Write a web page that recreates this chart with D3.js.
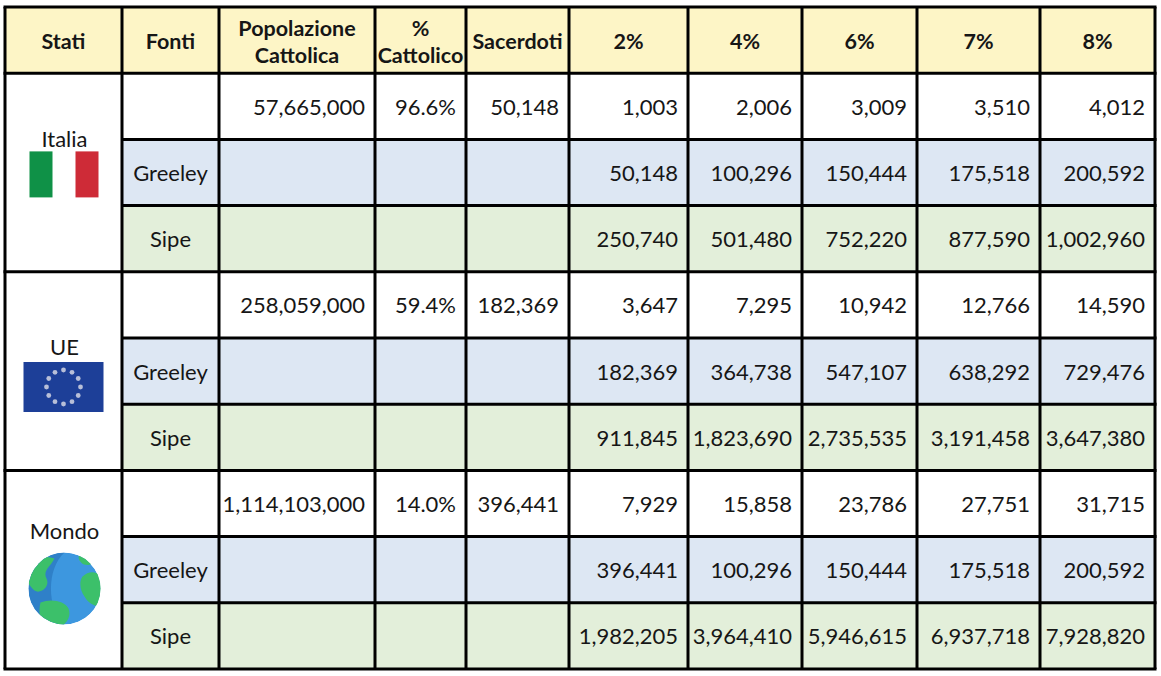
<!DOCTYPE html>
<html>
<head>
<meta charset="utf-8">
<script src="https://cdn.jsdelivr.net/npm/d3@7"></script>
<style>
  body { margin: 0; background: #fff; }
  text { font-family: Lato, "Open Sans", sans-serif; fill: #161616; }
</style>
</head>
<body>
<div id="table"></div>
<script>
// data
const headers = ["Stati", "Fonti", "Popolazione\nCattolica", "%\nCattolico", "Sacerdoti", "2%", "4%", "6%", "7%", "8%"];
const stati = ["Italia", "UE", "Mondo"];
const fonti = ["", "Greeley", "Sipe"];
const popolazione = [57665000, 258059000, 1114103000];
const percCattolico = [96.6, 59.4, 14.0];
const sacerdoti = [50148, 182369, 396441];

const italiaBase   = [1003, 2006, 3009, 3510, 4012];
const italiaGreeley = [50148, 100296, 150444, 175518, 200592];
const italiaSipe   = [250740, 501480, 752220, 877590, 1002960];
const ueBase       = [3647, 7295, 10942, 12766, 14590];
const ueGreeley    = [182369, 364738, 547107, 638292, 729476];
const ueSipe       = [911845, 1823690, 2735535, 3191458, 3647380];
const mondoBase    = [7929, 15858, 23786, 27751, 31715];
const mondoGreeley = [396441, 100296, 150444, 175518, 200592];
const mondoSipe    = [1982205, 3964410, 5946615, 6937718, 7928820];

const valori = [
    [italiaBase, italiaGreeley, italiaSipe],
    [ueBase, ueGreeley, ueSipe],
    [mondoBase, mondoGreeley, mondoSipe]
];

// layout
const W = 1161, H = 676;
const colWidths = [117, 97, 156, 91, 103, 119, 114, 115, 123, 115];
const left = 5;
const edges = [left, ...d3.cumsum(colWidths).map(d => d + left)];
const labelOffset = [65, 75, 60];

const x = i => edges[i];
const cw = i => colWidths[i];
const y = d3.scaleBand().domain(d3.range(10)).range([7, 669]);

const rowFill = ["#ffffff", "#dde7f3", "#e3efda"];
const headFill = "#fdf5c6";

const fmt = d3.format(",");
const fmtPct = d => d3.format(".1f")(d) + "%";

const svg = d3.select("#table")
    .append("svg")
    .attr("width", W)
    .attr("height", H);

// header cells
svg.append("rect")
    .attr("x", x(0)).attr("y", y(0))
    .attr("width", edges[10] - edges[0]).attr("height", y.bandwidth())
    .attr("fill", headFill);

headers.forEach((h, i) => {
    const lines = h.split("\n");
    const cx = x(i) + cw(i) / 2;
    const cy = y(0) + y.bandwidth() / 2 + 1;
    const t = svg.append("text")
        .attr("x", cx)
        .attr("text-anchor", "middle")
        .attr("font-weight", "bold")
        .attr("font-size", 21.5);
    lines.forEach((l, k) => {
        t.append("tspan")
            .attr("x", cx)
            .attr("y", cy + (k - (lines.length - 1) / 2) * 27)
            .attr("dominant-baseline", "central")
            .text(l);
    });
});

// body rows
stati.forEach((s, si) => {
    fonti.forEach((f, fi) => {
        const r = 1 + si * 3 + fi;
        const ry = y(r);
        const cy = ry + y.bandwidth() / 2;

        svg.append("rect")
            .attr("x", x(1)).attr("y", ry)
            .attr("width", edges[10] - edges[1]).attr("height", y.bandwidth())
            .attr("fill", rowFill[fi]);

        svg.append("text")
            .attr("x", x(1) + cw(1) / 2)
            .attr("y", cy)
            .attr("dominant-baseline", "central")
            .attr("text-anchor", "middle")
            .attr("font-size", 22)
            .text(f);

        const cells = [];
        if (fi == 0) {
            cells.push([2, fmt(popolazione[si])]);
            cells.push([3, fmtPct(percCattolico[si])]);
            cells.push([4, fmt(sacerdoti[si])]);
        }
        valori[si][fi].forEach((v, vi) => cells.push([5 + vi, fmt(v)]));

        cells.forEach(([c, txt]) => {
            svg.append("text")
                .attr("x", x(c + 1) - 10)
                .attr("y", cy)
                .attr("dominant-baseline", "central")
                .attr("text-anchor", "end")
                .attr("font-size", 22)
                .text(txt);
        });
    });

    // Stati label
    const top = y(1 + si * 3);
    svg.append("text")
        .attr("x", x(0) + cw(0) / 2 + 1)
        .attr("y", top + labelOffset[si])
        .attr("dominant-baseline", "central")
        .attr("text-anchor", "middle")
        .attr("font-size", 22)
        .text(s);
});

// icons
const cx0 = x(0) + cw(0) / 2;

// Italia flag
const itTop = y(2) + 12;
svg.append("rect").attr("x", cx0 - 34).attr("y", itTop).attr("width", 23).attr("height", 46).attr("fill", "#0f9147");
svg.append("rect").attr("x", cx0 + 12).attr("y", itTop).attr("width", 23).attr("height", 46).attr("fill", "#ce2b37");

// EU flag
const euTop = y(5) + 24;
svg.append("rect").attr("x", cx0 - 40).attr("y", euTop).attr("width", 80).attr("height", 50).attr("fill", "#1d3f98");
svg.selectAll(".star")
    .data(d3.range(12))
    .enter()
    .append("circle")
    .attr("cx", d => cx0 + 17 * Math.sin(d * Math.PI / 6))
    .attr("cy", d => euTop + 25 - 17 * Math.cos(d * Math.PI / 6))
    .attr("r", 2.4)
    .attr("fill", "#b8bfd8");

// Mondo globe
const gx = cx0 + 1, gy = y(8) + 52, gr = 36;
const globe = svg.append("g").attr("transform", `translate(${gx},${gy})`);
globe.append("clipPath").attr("id", "gclip").append("circle").attr("r", gr);
const gg = globe.append("g").attr("clip-path", "url(#gclip)");
gg.append("circle").attr("r", gr).attr("fill", "#3d97df");
gg.append("path")
    .attr("d", `M0,${-gr} C-18,-20 -18,20 0,${gr} L-${gr},${gr} L-${gr},-${gr} Z`)
    .attr("fill", "#2f80c8");
gg.append("path")
    .attr("d", "M-40,-20 C-30,-30 -20,-34 -10,-30 C-14,-22 -22,-18 -18,-10 C-14,-2 -24,6 -30,2 C-36,-4 -40,-10 -40,-20 Z")
    .attr("fill", "#3cc06a");
gg.append("path")
    .attr("d", "M-24,14 C-14,10 0,12 4,20 C8,30 -2,40 -10,40 C-20,40 -28,30 -24,14 Z")
    .attr("fill", "#3cc06a");
gg.append("path")
    .attr("d", "M18,-12 C26,-20 36,-16 40,-8 L40,16 C34,20 24,16 20,8 C16,2 14,-6 18,-12 Z")
    .attr("fill", "#3cc06a");
gg.append("path")
    .attr("d", "M14,-32 C22,-36 30,-30 26,-24 C20,-22 14,-26 14,-32 Z")
    .attr("fill", "#3cc06a");

// grid lines
svg.selectAll(".vline")
    .data(edges)
    .enter()
    .append("line")
    .attr("x1", d => d).attr("x2", d => d)
    .attr("y1", y(0)).attr("y2", y(9) + y.bandwidth())
    .attr("stroke", "#000").attr("stroke-width", 3);

// horizontal lines: full width at group edges, from Fonti column inside groups
const hLines = d3.range(11).map(r => ({
    r: r,
    full: r <= 1 || (r - 1) % 3 == 0
}));
svg.selectAll(".hline")
    .data(hLines)
    .enter()
    .append("line")
    .attr("x1", d => d.full ? edges[0] - 1.5 : edges[1])
    .attr("x2", edges[10] + 1.5)
    .attr("y1", d => d.r < 10 ? y(d.r) : y(9) + y.bandwidth())
    .attr("y2", d => d.r < 10 ? y(d.r) : y(9) + y.bandwidth())
    .attr("stroke", "#000").attr("stroke-width", 3);
</script>
</body>
</html>
